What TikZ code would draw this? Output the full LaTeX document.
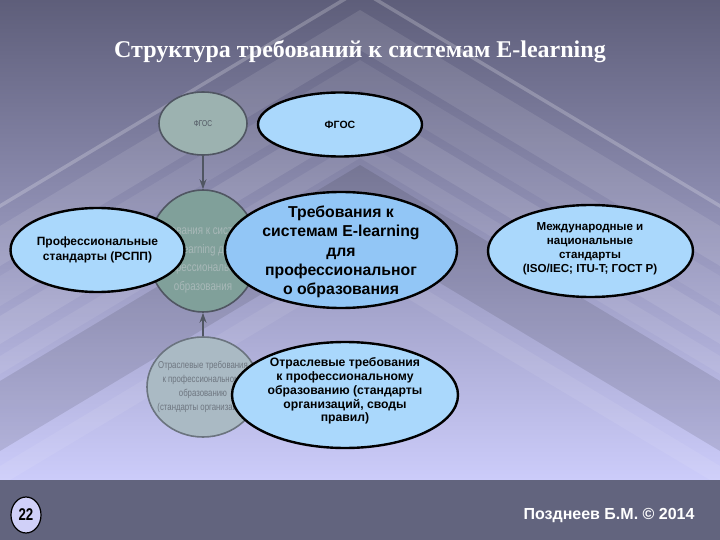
\documentclass[tikz,border=0pt]{standalone}
\usepackage{fontspec}
\setmainfont{Liberation Sans}
\newfontfamily\titlefont{Liberation Serif}
\newfontfamily\narrowfont[FakeStretch=0.78]{Liberation Sans}
\usetikzlibrary{shapes.geometric,arrows.meta}
\definecolor{bgtop}{RGB}{94,94,122}
\definecolor{bgbot}{RGB}{204,204,250}
\definecolor{bandcol}{RGB}{98,100,126}
\definecolor{blobfill}{RGB}{170,216,252}
\definecolor{mainfill}{RGB}{146,198,246}
\definecolor{ghostA}{RGB}{156,178,176}
\definecolor{ghostB}{RGB}{128,160,154}
\definecolor{ghostC}{RGB}{170,186,196}
\definecolor{ghostline}{RGB}{80,86,98}
\definecolor{ghosttext}{RGB}{168,184,184}
\definecolor{ghosttextC}{RGB}{110,118,128}
\definecolor{pagefill}{RGB}{208,208,248}
\newcommand\chevband[3]{\fill[#3] (0,{#1+216}) -- (360,#1) -- (720,{#1+216}) -- (720,{#1+216+#2}) -- (360,{#1+#2}) -- (0,{#1+216+#2}) -- cycle;}
\tikzset{
  blob/.style={ellipse, draw=black, line width=2.4pt, fill=blobfill, inner sep=0pt},
  ghost/.style={ellipse, draw=ghostline, line width=1.6pt, inner sep=0pt},
  ghostarrow/.style={draw=ghostline, line width=1.5pt, -{Stealth[length=10pt,width=7pt]}},
  blobtext/.style={align=center, text=black, font=\bfseries\fontsize{11.2}{14}\selectfont},
}
\begin{document}
\begin{tikzpicture}[x=1pt,y=-1pt]
\useasboundingbox (0,0) rectangle (720,540);
% background
\shade[top color=bgtop, bottom color=bgbot] (0,0) rectangle (720,480);
\begin{scope}
  \clip (0,0) rectangle (720,480);
  \chevband{10}{40}{white,opacity=0.10}
  \chevband{-12}{4}{white,opacity=0.22}
  \chevband{60}{30}{white,opacity=0.07}
  \chevband{100}{28}{white,opacity=0.10}
  \chevband{140}{18}{white,opacity=0.08}
  \chevband{165}{70}{black,opacity=0.10}
  \chevband{250}{20}{white,opacity=0.08}
\end{scope}
\fill[bandcol] (0,480) rectangle (720,540);

% title
\node[text=white, font=\titlefont\bfseries\fontsize{24}{26}\selectfont] (title) at (360,52) {Структура требований к системам E-learning};

% ghost diagram
\node[ghost, fill=ghostA, minimum width=88pt, minimum height=63pt] (g1) at (203,123.5) {};
\node[text=ghostline, font=\narrowfont\fontsize{8.5}{9}\selectfont] (g1t) at (g1) {ФГОС};
\node[ghost, fill=ghostB, minimum width=110pt, minimum height=122pt] (g2) at (203,251) {};
\node[text=ghosttext, align=center, font=\narrowfont\fontsize{12.5}{18.5}\selectfont] (g2t) at (203,259) {Требования к системам\\E-learning для\\профессионального\\образования};
\node[ghost, draw=ghostline!70!ghostC, fill=ghostC, minimum width=112pt, minimum height=100pt] (g3) at (203,387) {};
\node[text=ghosttextC, align=center, font=\narrowfont\fontsize{10}{13.8}\selectfont] (g3t) at (203,387) {Отраслевые требования\\к профессиональному\\образованию\\(стандарты организаций)};
\draw[ghostarrow] (g1.south) -- (g2.north);
\draw[ghostarrow] (g3.north) -- (g2.south);

% foreground ellipses
\node[blob, minimum width=164pt, minimum height=64pt] (fgos) at (340,124.5) {};
\node[blobtext, font=\bfseries\fontsize{10.5}{12}\selectfont] (fgost) at (fgos) {ФГОС};

\node[blob, minimum width=174pt, minimum height=84pt] (prof) at (97.5,250) {};
\node[blobtext, font=\bfseries\fontsize{12}{15.5}\selectfont] (proft) at (prof) {Профессиональные\\стандарты (РСПП)};

\node[blob, fill=mainfill, minimum width=232pt, minimum height=116pt] (main) at (341,250) {};
\node[blobtext, font=\bfseries\fontsize{15.8}{19.3}\selectfont] (maint) at (341,252) {Требования к\\системам E-learning\\для\\профессиональног\\о образования};

\node[blob, minimum width=205pt, minimum height=92pt] (intl) at (590.5,251) {};
\node[blobtext, font=\bfseries\fontsize{11.6}{14}\selectfont] (intlt) at (590,249) {Международные и\\национальные\\стандарты\\(ISO/IEC; ITU-T; ГОСТ Р)};

\node[blob, minimum width=226pt, minimum height=106pt] (otr) at (345,395) {};
\node[blobtext, font=\bfseries\fontsize{12.2}{13.8}\selectfont] (otrt) at (345,391) {Отраслевые требования\\к профессиональному\\образованию (стандарты\\организаций, своды\\правил)};

% footer
\node[ellipse, draw=black, line width=1.2pt, fill=pagefill, minimum width=30pt, minimum height=36pt, inner sep=0pt] (page) at (26,515) {};
\node[font=\narrowfont\bfseries\fontsize{17}{18}\selectfont] (paget) at (page) {22};
\node[anchor=east, text=white, font=\bfseries\fontsize{16}{18}\selectfont] (author) at (698,516) {Позднеев Б.М. © 2014};
\end{tikzpicture}
\end{document}
